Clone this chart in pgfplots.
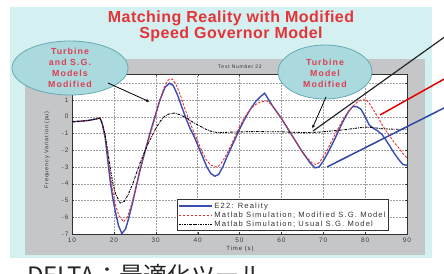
\documentclass[border=0pt]{standalone}
\usepackage{pgfplots}
\pgfplotsset{compat=1.18}
\usetikzlibrary{arrows.meta}
\usepackage{fontspec}
\setmainfont{Liberation Sans}
\newfontfamily\spfont[LetterSpace=15]{Liberation Sans}
\newfontfamily\bubfont[LetterSpace=12]{Liberation Sans}
\newfontfamily\cjk{Noto Sans CJK JP}
\definecolor{panel}{RGB}{212,240,240}
\definecolor{figgray}{RGB}{196,198,200}
\definecolor{bubfill}{RGB}{170,218,222}
\definecolor{bubdraw}{RGB}{100,170,178}
\definecolor{titlered}{RGB}{228,52,58}
\definecolor{bubred}{RGB}{222,62,82}
\definecolor{cblue}{RGB}{58,78,178}
\definecolor{cred}{RGB}{232,48,48}
\begin{document}
\begin{tikzpicture}[x=1pt,y=1pt]
\useasboundingbox (0,0) rectangle (444,273);
\clip (0,0) rectangle (444,273);
\fill[white] (0,0) rectangle (444,273);
\fill[panel] (10,15) rectangle (432,266);
\fill[figgray] (25,18) rectangle (425,214);
\node[font=\bfseries\addfontfeatures{LetterSpace=3}\fontsize{16}{15.5}\selectfont, text=titlered, align=center] at (231,246.5) {Matching Reality with Modified\\Speed Governor Model};
\node[font=\spfont\fontsize{5}{6}\selectfont, text=black!80] at (240,206) {Test Number 22};
\begin{axis}[
  at={(72pt,39pt)}, anchor=south west,
  scale only axis, width=335pt, height=160pt,
  xmin=10, xmax=90, ymin=-7, ymax=2.55,
  xtick={10,20,...,90}, ytick={-7,-6,...,1},
  extra y ticks={2}, extra y tick labels={},
  tick align=inside, major tick length=2pt,
  grid=major,
  major grid style={gray!75, dash pattern=on 1.5pt off 1.5pt, line width=0.35pt},
  extra tick style={grid=major},
  axis background/.style={fill=white},
  axis line style={black!80, line width=0.5pt},
  tick style={black!80},
  tick label style={font=\spfont\fontsize{6.5}{7}\selectfont, text=black!75},
  /pgf/number format/assume math mode=true,
  legend style={at={(0.313,0.02)}, anchor=south west, draw=black!80, fill=white,
    font=\spfont\fontsize{7.6}{8}\selectfont, text=black!80, inner sep=1pt,
    row sep=-2pt, cells={anchor=west}},
  legend image code/.code={\draw[#1] (0pt,0pt) -- (33pt,0pt);},
]
\addplot[cblue, line width=1.4pt] coordinates {
(10,-0.3)(12,-0.27)(14,-0.22)(16,-0.12)(16.7,-0.08)(17.2,-0.4)(17.9,-1.2)(18.5,-2.5)(19.1,-3.8)(19.7,-4.8)(20.3,-5.6)(21.1,-6.5)(21.9,-6.97)(22.8,-6.7)(23.6,-6.0)(24.5,-5.1)(25.4,-4.1)(26.2,-3.2)(27.4,-2.1)(28.6,-1.0)(29.8,0.0)(31,1.0)(32.2,1.75)(33.3,2.0)(34.2,1.85)(35.2,1.3)(36.2,0.6)(37.2,-0.1)(38.2,-0.7)(39.2,-1.2)(40.2,-1.8)(41.2,-2.4)(42.2,-3.0)(43.2,-3.4)(44.1,-3.55)(45,-3.45)(46,-3.0)(47,-2.4)(48,-1.85)(49,-1.3)(50,-0.75)(51,-0.25)(52,0.2)(53,0.6)(54,0.95)(55,1.2)(56,1.4)(57,1.0)(58,0.6)(59,0.25)(60,-0.1)(61,-0.5)(62,-0.9)(63,-1.3)(64,-1.7)(65,-2.1)(66,-2.45)(67,-2.8)(68,-3.05)(69,-3.0)(70,-2.65)(71,-2.2)(72,-1.7)(73,-1.2)(74,-0.65)(75,-0.15)(76,0.3)(77,0.6)(78,0.6)(79,0.45)(80,0.0)(81,-0.5)(82,-0.7)(83,-0.85)(84,-1.05)(85,-1.4)(86,-1.8)(87,-2.2)(88,-2.55)(89,-2.85)(90,-2.9)};
\addlegendentry{E22: Reality}
\addplot[cred, line width=0.9pt, dash pattern=on 2.5pt off 1.5pt] coordinates {
(10,-0.3)(12,-0.27)(14,-0.22)(16,-0.12)(16.7,-0.08)(17.2,-0.4)(17.9,-1.1)(18.5,-2.2)(19.1,-3.4)(19.7,-4.4)(20.3,-5.2)(21.2,-5.9)(22.3,-6.27)(23.2,-6.0)(24,-5.4)(25,-4.5)(26,-3.5)(27,-2.5)(28,-1.6)(29,-0.8)(30,0.1)(31,1.0)(32,1.75)(33,2.2)(34,2.25)(35,1.85)(36,1.2)(37,0.45)(38,-0.25)(39,-0.85)(40,-1.45)(41,-2.05)(42,-2.55)(43,-2.85)(44,-3.0)(45,-2.95)(46,-2.65)(47,-2.2)(48,-1.7)(49,-1.15)(50,-0.6)(51,-0.15)(52,0.25)(53,0.55)(54,0.75)(55,0.88)(56.5,0.95)(57.5,0.75)(58.5,0.45)(59.5,0.1)(60.5,-0.3)(61.5,-0.7)(62.5,-1.1)(63.5,-1.5)(64.5,-1.9)(65.5,-2.25)(66.5,-2.55)(67.5,-2.8)(68.3,-2.85)(69,-2.75)(70,-2.4)(71,-1.95)(72,-1.45)(73,-0.95)(74,-0.5)(75,-0.05)(76,0.3)(77,0.6)(78,0.85)(79,1.0)(80.2,1.02)(81,0.8)(82,0.4)(83,0.0)(84,-0.45)(85,-0.85)(86,-1.2)(87,-1.55)(88,-1.85)(89,-2.2)(90,-2.45)};
\addlegendentry{Matlab Simulation; Modified S.G. Model}
\addplot[black, line width=0.9pt, dash pattern=on 2.5pt off 1pt on 0.7pt off 1pt] coordinates {
(10,-0.3)(12,-0.27)(14,-0.22)(16,-0.12)(16.7,-0.08)(17.2,-0.4)(17.9,-1.1)(18.5,-2.0)(19.1,-3.0)(19.7,-3.9)(20.4,-4.6)(21.5,-5.15)(22.5,-5.05)(23.5,-4.6)(24.5,-4.0)(25.5,-3.3)(26.2,-2.8)(27,-2.3)(28,-1.7)(29,-1.2)(30,-0.7)(31,-0.3)(32,0.0)(33,0.15)(34.5,0.22)(36,0.1)(37.5,-0.1)(39,-0.35)(40.5,-0.55)(42,-0.75)(43.5,-0.9)(45,-0.95)(48,-0.92)(51,-0.9)(54,-0.88)(57,-0.9)(60,-0.9)(63,-0.93)(66,-0.95)(69,-0.92)(72,-0.85)(75,-0.78)(78,-0.68)(80,-0.62)(82,-0.65)(84,-0.72)(87,-0.75)(90,-0.75)};
\addlegendentry{Matlab Simulation; Usual S.G. Model}
\end{axis}
\node[font=\spfont\fontsize{6}{7}\selectfont, text=black!80] at (240,24) {Time (s)};
\node[font=\spfont\fontsize{5.5}{6}\selectfont, text=black!80, rotate=90] at (47,123) {Frequency Variation (pu)};
% bubbles
\filldraw[fill=bubfill, draw=bubdraw, line width=0.8pt] (70,205) ellipse [x radius=58, y radius=27];
\node[font=\bfseries\bubfont\fontsize{8.8}{11}\selectfont, text=bubred, align=center] at (70,205) {Turbine\\and S.G.\\Models\\Modified};
\filldraw[fill=bubfill, draw=bubdraw, line width=0.8pt] (325,201) ellipse [x radius=47, y radius=27];
\node[font=\bfseries\bubfont\fontsize{8.8}{11}\selectfont, text=bubred, align=center] at (325,200) {Turbine\\Model\\Modified};
% arrows
\draw[black, line width=0.8pt, -{Latex[length=4pt,width=3pt]}] (108,190) -- (150,171);
\draw[black, line width=0.8pt, -{Latex[length=4pt,width=3pt]}] (326,176) -- (312,144);
\draw[black!85, line width=1.2pt] (313,142) -- (446,237);
\draw[red!90!black, line width=1.5pt] (380,158) -- (446,195);
\draw[cblue!90!black, line width=1.5pt] (327,106) -- (446,166);
% bottom text
\node[anchor=base west, font=\cjk\fontsize{24}{24}\selectfont, text=black!85, inner sep=0pt] at (27,-11) {DELTA：最適化ツール};
\end{tikzpicture}
\end{document}
